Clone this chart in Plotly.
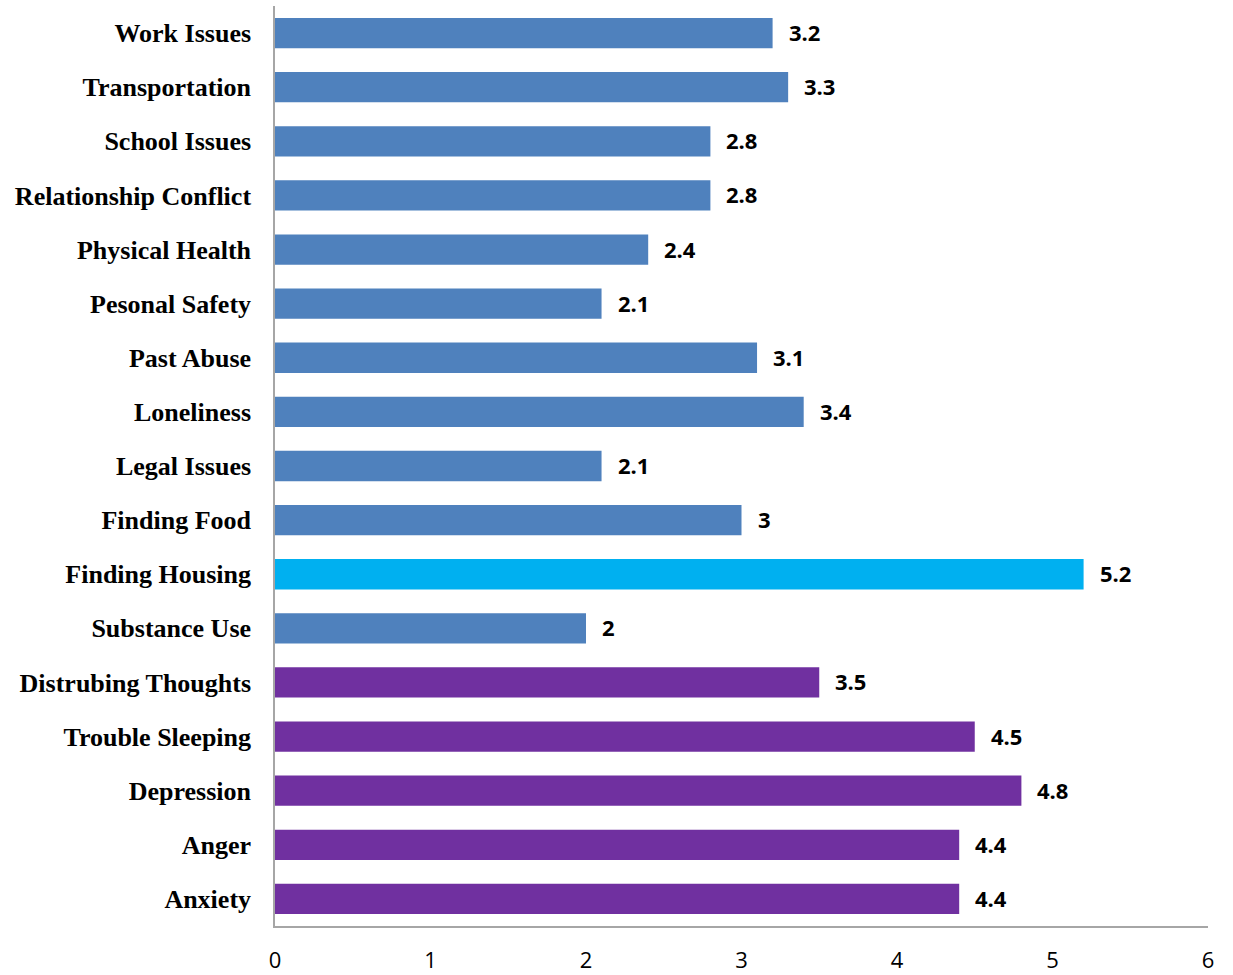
import plotly.graph_objects as go

categories = ["Work Issues", "Transportation", "School Issues", "Relationship Conflict",
              "Physical Health", "Pesonal Safety", "Past Abuse", "Loneliness",
              "Legal Issues", "Finding Food", "Finding Housing", "Substance Use",
              "Distrubing Thoughts", "Trouble Sleeping", "Depression", "Anger", "Anxiety"]
values = [3.2, 3.3, 2.8, 2.8, 2.4, 2.1, 3.1, 3.4, 2.1, 3, 5.2, 2, 3.5, 4.5, 4.8, 4.4, 4.4]
groups = ["general"] * 10 + ["housing"] + ["general"] + ["mental"] * 5
tick_vals = [0, 1, 2, 3, 4, 5, 6]

color_map = {"general": "#4F81BD", "housing": "#00B0F0", "mental": "#7030A0"}
colors = [color_map[g] for g in groups]

fig = go.Figure()
fig.add_trace(go.Bar(
    x=values, y=categories, orientation="h",
    marker=dict(color=colors, line=dict(width=0)),
    width=0.56, hoverinfo="x+y",
))

for c, v in zip(categories, values):
    fig.add_annotation(x=v, y=c, text=f"<b>{v:g}</b>", showarrow=False,
                       xanchor="left", xshift=14, yshift=1,
                       font=dict(family="Open Sans", size=22, color="#000000"))

fig.update_layout(
    width=1233, height=975,
    margin=dict(l=275, r=25, t=6, b=49, autoexpand=False),
    paper_bgcolor="white", plot_bgcolor="white",
    showlegend=False,
)
fig.update_xaxes(range=[0, 6], tickvals=tick_vals, showgrid=False, zeroline=False,
                 showline=True, linecolor="#A6A6A6", linewidth=1.5, ticks="",
                 ticklabelstandoff=14,
                 tickfont=dict(family="Open Sans", size=22, color="#000000"))
fig.update_yaxes(autorange="reversed", showgrid=False, zeroline=False,
                 showline=True, linecolor="#A6A6A6", linewidth=1.5, ticks="",
                 ticklabelstandoff=17,
                 tickfont=dict(family="Liberation Serif", size=26, color="#000000"))
fig.update_yaxes(tickvals=categories, ticktext=[f"<b>{c}</b>" for c in categories])

fig.write_html("out.html", config={"displayModeBar": False},
               post_script="document.body.style.margin='0px';")
